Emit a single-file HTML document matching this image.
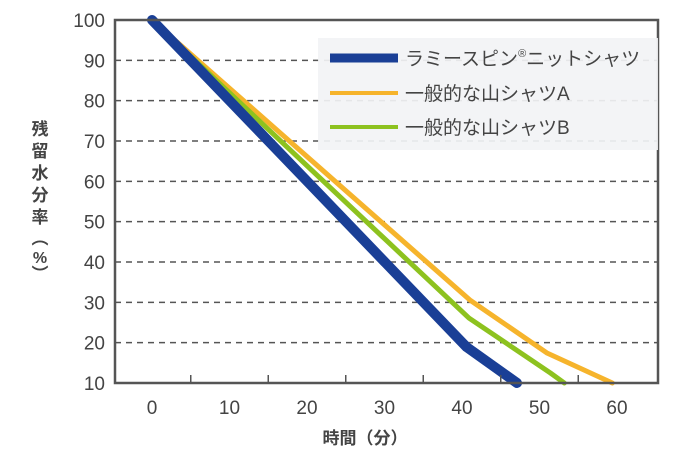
<!DOCTYPE html>
<html><head><meta charset="utf-8"><style>
body{margin:0;background:#fff;}
svg text{font-family:"Liberation Sans","Noto Sans CJK JP",sans-serif;fill:#444;}
</style></head><body>
<svg width="690" height="460" id="c">
<g id="grid"></g><g id="series"></g><g id="axes"></g>
<rect x="318" y="38" width="340" height="112" fill="#f2f3f5" opacity="0.92"/>
<g>
<line x1="330" y1="58" x2="398" y2="58" stroke="#1a3f96" stroke-width="9"/>
<text x="405" y="65" font-size="19">ラミースピン<tspan font-size="11" dy="-8">®</tspan><tspan dy="8">ニットシャツ</tspan></text>
<line x1="330" y1="93" x2="398" y2="93" stroke="#f6b42c" stroke-width="4"/>
<text x="405" y="100" font-size="19">一般的な山シャツA</text>
<line x1="330" y1="127" x2="398" y2="127" stroke="#8dc21f" stroke-width="4"/>
<text x="405" y="134" font-size="19">一般的な山シャツB</text>
</g>
<text x="365" y="444" font-size="17" font-weight="bold" text-anchor="middle">時間（分）</text>
<g font-size="17" font-weight="bold">
<text x="40" y="135" text-anchor="middle">残</text><text x="40" y="157" text-anchor="middle">留</text><text x="40" y="179" text-anchor="middle">水</text><text x="40" y="201" text-anchor="middle">分</text><text x="40" y="223" text-anchor="middle">率</text>
<text x="40" y="244" text-anchor="middle">︵</text><text x="40" y="263" text-anchor="middle" font-size="16">%</text><text x="40" y="280" text-anchor="middle">︶</text>
</g>
</svg>
<script>
const xTicks=[0,10,20,30,40,50,60];
const yTicks=[10,20,30,40,50,60,70,80,90,100];
const ramieX=[0,40.6,47.1], ramieY=[100,18.9,10];
const aX=[0,41,51,59.4], aY=[100,30.6,17.4,10];
const bX=[0,40.9,51.4,53.2], bY=[100,26.1,12.5,10];
const L=115,R=658,T=20,B=383;
const sx=v=>152+v*7.75, sy=v=>B-(v-10)*(B-T)/90;
const NS="http://www.w3.org/2000/svg";
function mk(tag,attrs,parent){const e=document.createElementNS(NS,tag);for(const k in attrs)e.setAttribute(k,attrs[k]);document.getElementById(parent).appendChild(e);return e;}
yTicks.forEach(v=>{
 if(v>10&&v<100){const g=mk('line',{x1:L,x2:R,y1:sy(v),y2:sy(v),stroke:'#555','stroke-width':1.5,'stroke-dasharray':'6,5'},'grid');
 
 }
 const t=mk('text',{x:105,y:sy(v)+7,'font-size':19,'text-anchor':'end'},'axes');t.textContent=v;
 
 
});
xTicks.forEach(v=>{
 const t=mk('text',{x:sx(v),y:414,'font-size':19,'text-anchor':'middle'},'axes');t.textContent=v;
 
 
 if(v<60){
 const m=mk('line',{x1:sx(v+5),x2:sx(v+5),y1:B,y2:B-8,stroke:'#555','stroke-width':1.5},'axes');
 
 }
});
const fr=mk('path',{d:`M${L},${T}H${R}V${B}H${L}Z`,fill:'none',stroke:'#555','stroke-width':2.5},'axes');


function line(xs,ys,col,w,name){
 const p=mk('polyline',{points:xs.map((x,i)=>sx(x)+','+sy(ys[i])).join(' '),fill:'none',stroke:col,'stroke-width':w,'stroke-linecap':'round','stroke-linejoin':'round'},'series');
 
 
}
line(aX,aY,'#f6b42c',5,'line-shirt-a');
line(bX,bY,'#8dc21f',5,'line-shirt-b');
line(ramieX,ramieY,'#1a3f96',10,'line-ramie');
</script>
</body></html>
